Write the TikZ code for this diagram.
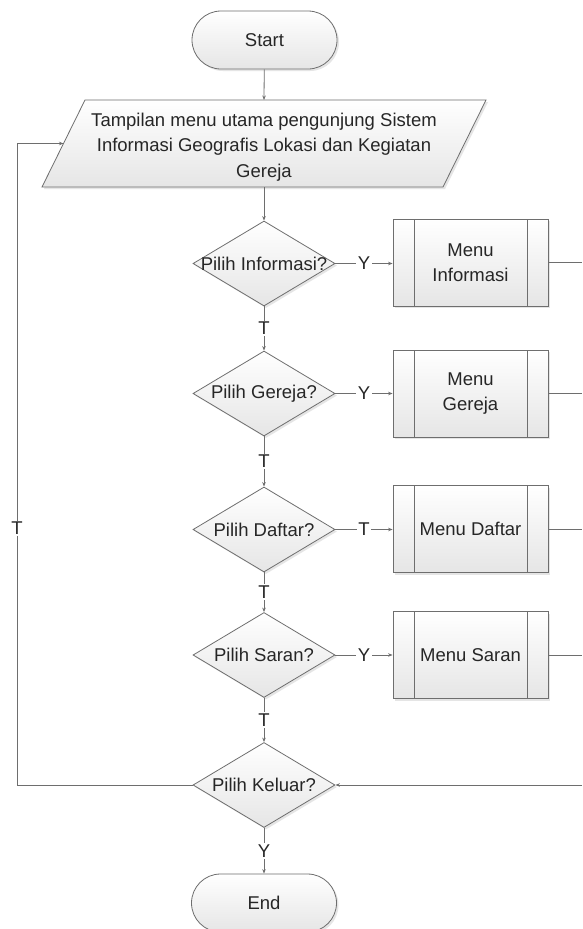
\documentclass[tikz,border=0pt]{standalone}
\usepackage{fontspec}
\setmainfont{Liberation Sans}
\usetikzlibrary{shapes.geometric,shapes.misc,arrows.meta,shadows}
\definecolor{ln}{HTML}{6E6E6E}
\definecolor{tx}{HTML}{262626}
\begin{document}
\begin{tikzpicture}[x=1pt,y=-1pt,
  shp/.style={draw=ln, line width=0.8pt, top color=white, bottom color=black!10,
    general shadow={fill=black!10, shadow xshift=2pt, shadow yshift=-2pt}},
  txtf/.style={text=tx, font=\fontsize{18.5}{25.5}\selectfont},
  term/.style={shp, rounded rectangle, minimum width=145pt, minimum height=58pt, inner sep=0pt, txtf},
  dec/.style={shp, diamond, minimum width=142pt, minimum height=85pt, inner sep=0pt},
  dlab/.style={txtf, inner sep=0pt},
  proc/.style={shp, rectangle, minimum width=155pt, minimum height=87pt, inner sep=0pt, align=center, txtf,
    path picture={
      \draw[ln, line width=0.8pt] ([xshift=21pt]path picture bounding box.north west) -- ([xshift=21pt]path picture bounding box.south west);
      \draw[ln, line width=0.8pt] ([xshift=-21pt]path picture bounding box.north east) -- ([xshift=-21pt]path picture bounding box.south east);}},
  iotext/.style={align=center, inner sep=0pt, txtf},
  conn/.style={draw=ln, line width=0.8pt},
  arr/.style={conn, -{Stealth[length=4.5pt,width=3.5pt]}},
  lbl/.style={fill=white, inner sep=1.5pt, txtf}]
\fill[white] (0,0) rectangle (582,929);
\useasboundingbox (0,0) rectangle (582,929);

\node[term] (start) at (264.5,40) {Start};

% input/output parallelogram
\path[shp] (42,187) -- (85,100) -- (486,100) -- (443,187) -- cycle;
\node[iotext] (disp) at (264,147) {Tampilan menu utama pengunjung Sistem\\Informasi Geografis Lokasi dan Kegiatan\\Gereja};
\coordinate (iotop) at (264,100);
\coordinate (iobot) at (264,187);
\coordinate (ioleft) at (63.5,143.5);

\node[dec, label={[dlab]center:Pilih Informasi?}] (d1) at (264,263.5) {};
\node[dec, label={[dlab]center:Pilih Gereja?}] (d2) at (264,393.5) {};
\node[dec, label={[dlab]center:Pilih Daftar?}] (d3) at (264,529.5) {};
\node[dec, label={[dlab]center:Pilih Saran?}] (d4) at (264,655) {};
\node[dec, label={[dlab]center:Pilih Keluar?}] (d5) at (264,785) {};

\node[proc] (p1) at (470.5,262.5) {Menu\\Informasi};
\node[proc] (p2) at (470.5,393.5) {Menu\\Gereja};
\node[proc] (p3) at (470.5,529) {Menu Daftar};
\node[proc] (p4) at (470.5,655) {Menu Saran};

\node[term] (end) at (264,903) {End};

\coordinate (r1) at (582,262.5);
\coordinate (r2) at (582,393.5);
\coordinate (r3) at (582,529);
\coordinate (r4) at (582,655);
\coordinate (r5) at (582,785);
\coordinate (lp1) at (17,785);
\coordinate (lp2) at (17,143.5);

\draw[arr] (start) -- (iotop);
\draw[arr] (iobot) -- (d1);
\draw[arr] (d1) -- node[lbl]{T} (d2);
\draw[arr] (d2) -- node[lbl]{T} (d3);
\draw[arr] (d3) -- node[lbl]{T} (d4);
\draw[arr] (d4) -- node[lbl]{T} (d5);
\draw[arr] (d5) -- node[lbl]{Y} (end);

\draw[arr] (d1.east) -- node[lbl]{Y} (d1.east -| p1.west);
\draw[arr] (d2.east) -- node[lbl]{Y} (d2.east -| p2.west);
\draw[arr] (d3.east) -- node[lbl]{T} (d3.east -| p3.west);
\draw[arr] (d4.east) -- node[lbl]{Y} (d4.east -| p4.west);

\draw[conn] (p1.east) -- (r1);
\draw[conn] (p2.east) -- (r2);
\draw[conn] (p3.east) -- (r3);
\draw[conn] (p4.east) -- (r4);
\draw[arr] (r5) -- (d5.east);

\draw[arr] (d5.west) -- (lp1) -- node[lbl, pos=0.4]{T} (lp2) -- (ioleft);
\end{tikzpicture}
\end{document}
